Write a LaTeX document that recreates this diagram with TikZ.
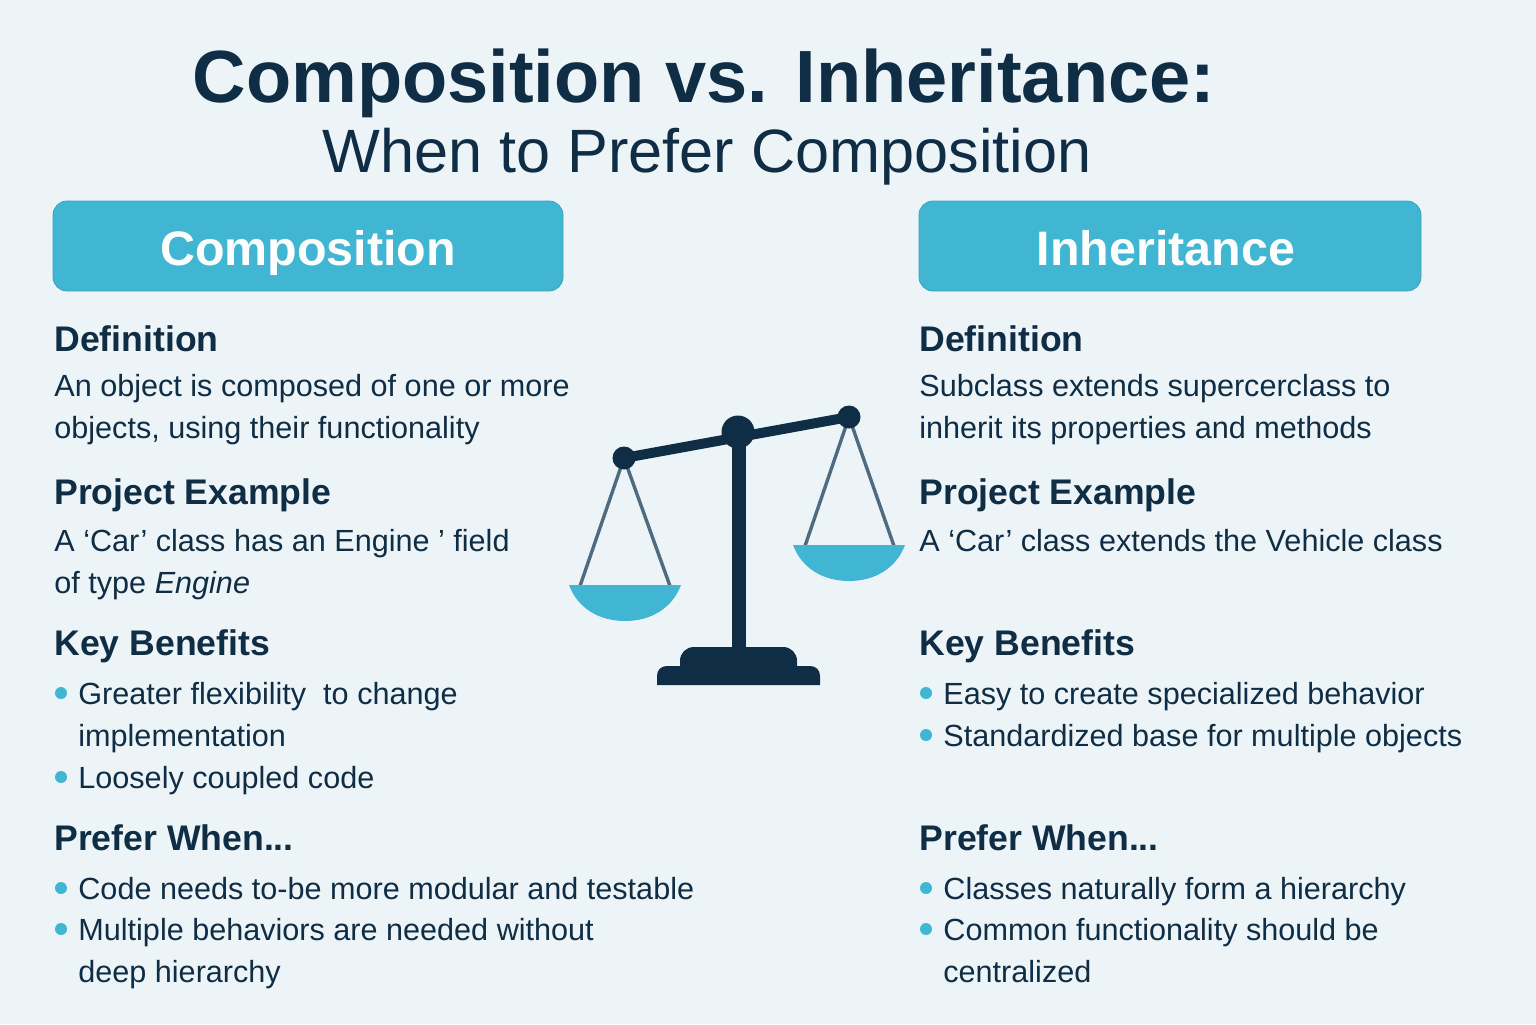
\documentclass[tikz,border=0pt]{standalone}
\usepackage{fontspec}
\setmainfont{Liberation Sans}
\definecolor{inkblue}{HTML}{0F2D45}
\definecolor{tealbox}{HTML}{41B6D2}
\definecolor{cordgrey}{HTML}{4F6B80}
\definecolor{paper}{HTML}{EDF4F8}
\tikzset{
  head/.style={anchor=base west, inner sep=0pt, text=inkblue, font=\fontsize{17.8}{18}\selectfont\bfseries},
  body/.style={anchor=base west, inner sep=0pt, text=inkblue, font=\fontsize{15.3}{15.3}\selectfont},
  banner/.style={draw=tealbox!90!black, line width=0.4pt, fill=tealbox, rounded corners=7pt, inner sep=0pt,
    text=white, font=\fontsize{24.2}{24.2}\selectfont\bfseries},
  bannertext/.style={anchor=base, inner sep=0pt, text=white, font=\fontsize{24.2}{24.2}\selectfont\bfseries},
  dot/.style={circle, fill=tealbox, inner sep=0pt, minimum size=6pt},
  cord/.style={draw=cordgrey, line width=1.7pt},
  knob/.style={circle, fill=inkblue, inner sep=0pt}
}
\begin{document}
\begin{tikzpicture}[x=0.5pt,y=-0.5pt]
  \fill[paper] (0,0) rectangle (1536,1024);
  \useasboundingbox (0,0) rectangle (1536,1024);
  % title
  \node[anchor=base, inner sep=0pt, text=inkblue, font=\fontsize{37}{37}\selectfont\bfseries] (title) at (704,102) {Composition vs. Inheritance:};
  \node[anchor=base, inner sep=0pt, text=inkblue, font=\fontsize{30.6}{31}\selectfont] (subtitle) at (707,172) {When to Prefer Composition};
  % banners
  \node[banner, minimum width=255pt, minimum height=45pt] (compbox) at (308,246) {};
  \node[banner, minimum width=251pt, minimum height=45pt] (inhbox) at (1170,246) {};
  \node[bannertext] (complabel) at (308,265) {Composition};
  \node[bannertext] (inhlabel) at (1166,265) {Inheritance};
  % left column
  \node[head] (cdef) at (54,351) {Definition};
  \node[body] (cdefa) at (54,396) {An object is composed of one or more};
  \node[body] (cdefb) at (54,438) {objects, using their functionality};
  \node[head] (cproj) at (54,504) {Project Example};
  \node[body] (cproja) at (54,551) {A ‘Car’ class has an Engine ’ field};
  \node[body] (cprojb) at (54,593) {of type \textit{Engine}};
  \node[head] (ckey) at (54,655) {Key Benefits};
  \node[dot] (cka) at (61,693) {};
  \node[body] (ckeya) at (78,704) {Greater flexibility\ \ to change};
  \node[body] (ckeyb) at (78,746) {implementation};
  \node[dot] (ckb) at (61,777) {};
  \node[body] (ckeyc) at (78,788) {Loosely coupled code};
  \node[head] (cpref) at (54,850) {Prefer When...};
  \node[dot] (cpa) at (61,888) {};
  \node[body] (cprefa) at (78,899) {Code needs to-be more modular and testable};
  \node[dot] (cpb) at (61,929) {};
  \node[body] (cprefb) at (78,940) {Multiple behaviors are needed without};
  \node[body] (cprefc) at (78,982) {deep hierarchy};
  % right column
  \node[head] (idef) at (919,351) {Definition};
  \node[body] (idefa) at (919,396) {Subclass extends supercerclass to};
  \node[body] (idefb) at (919,438) {inherit its properties and methods};
  \node[head] (iproj) at (919,504) {Project Example};
  \node[body] (iproja) at (919,551) {A ‘Car’ class extends the Vehicle class};
  \node[head] (ikey) at (919,655) {Key Benefits};
  \node[dot] (ika) at (926,693) {};
  \node[body] (ikeya) at (943,704) {Easy to create specialized behavior};
  \node[dot] (ikb) at (926,735) {};
  \node[body] (ikeyb) at (943,746) {Standardized base for multiple objects};
  \node[head] (ipref) at (919,850) {Prefer When...};
  \node[dot] (ipa) at (926,888) {};
  \node[body] (iprefa) at (943,899) {Classes naturally form a hierarchy};
  \node[dot] (ipb) at (926,929) {};
  \node[body] (iprefb) at (943,940) {Common functionality should be};
  \node[body] (iprefc) at (943,982) {centralized};
  % scale
  \coordinate (pivot) at (738,432);
  \coordinate (lend) at (624,458);
  \coordinate (rend) at (849,417);
  \draw[cord] (lend) -- (580,586) (lend) -- (670,586);
  \draw[cord] (rend) -- (805,546) (rend) -- (894,546);
  \fill[tealbox] (569,585) -- (681,585) .. controls (672,609) and (650,621) .. (625,621) .. controls (600,621) and (578,609) .. (569,585) -- cycle;
  \fill[tealbox] (793,545) -- (905,545) .. controls (896,569) and (874,581) .. (849,581) .. controls (824,581) and (802,569) .. (793,545) -- cycle;
  \draw[inkblue, line width=5pt] (lend) -- (rend);
  \fill[inkblue] (732,432) rectangle (746,650);
  \fill[inkblue] (657,685) -- (657,676) .. controls (657,670) and (661,666) .. (667,666) -- (680,666) -- (680,661)
    .. controls (680,653) and (686,647) .. (694,647) -- (783,647) .. controls (791,647) and (797,653) .. (797,661)
    -- (797,666) -- (810,666) .. controls (816,666) and (820,670) .. (820,676) -- (820,685) -- cycle;
  \node[knob, minimum size=16.5pt] (pivotknob) at (pivot) {};
  \node[knob, minimum size=11.5pt] (lknob) at (lend) {};
  \node[knob, minimum size=11.5pt] (rknob) at (rend) {};
\end{tikzpicture}
\end{document}
